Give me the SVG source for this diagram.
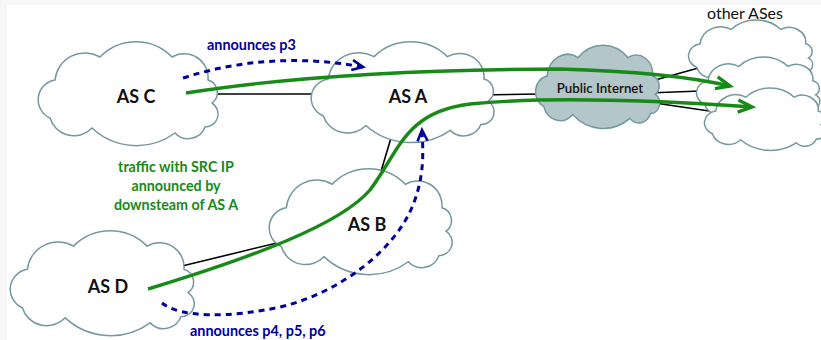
<svg xmlns="http://www.w3.org/2000/svg" width="821" height="340" viewBox="0 0 821 340">
<style>
.cloud{fill:#ffffff;stroke:#73989e;stroke-width:1.5}
.net{fill:#b3c6c9}
.link{stroke:#000;stroke-width:1.6;fill:none}
.green{stroke:#178a17;stroke-width:3.4;fill:none}
.blue{stroke:#00009a;stroke-width:3;fill:none;stroke-dasharray:6 5}
.lbl{font-family:Lato,"Open Sans",sans-serif;font-weight:bold;font-size:18px;fill:#111;text-anchor:middle}
.bt{font-family:Lato,"Open Sans",sans-serif;font-weight:bold;font-size:14.4px;fill:#00009a}
.gt{font-family:Lato,"Open Sans",sans-serif;font-weight:bold;font-size:14.3px;fill:#178a17;text-anchor:middle}
</style>
<defs>
<path id="cloud" vector-effect="non-scaling-stroke" d="M14,73 A20,20 0 0 1 19,35 A30,30 0 0 1 64,12 A50,50 0 0 1 136,12 A24,24 0 0 1 172,35 A13,13 0 0 1 176,58 A13,13 0 0 1 169,82 A18,18 0 0 1 139,88 A65,65 0 0 1 56,83 A25,25 0 0 1 14,73 Z"/>
<marker id="ga" markerUnits="userSpaceOnUse" markerWidth="20" markerHeight="20" refX="16" refY="8" orient="auto" viewBox="0 0 20 16">
<path d="M2,2 L16,8 L2,14" fill="none" stroke="#178a17" stroke-width="3.4"/>
</marker>
<marker id="ba" markerUnits="userSpaceOnUse" markerWidth="16" markerHeight="16" refX="13" refY="7" orient="auto" viewBox="0 0 16 14">
<path d="M2,2 L13,7 L2,12" fill="none" stroke="#00009a" stroke-width="2.6"/>
</marker>
</defs>
<rect x="0" y="0" width="821" height="340" fill="#f7f7f7"/>
<rect x="7" y="5" width="814" height="335" fill="#ffffff"/>

<g id="links">
<line class="link" x1="205" y1="94" x2="315" y2="94"/>
<line class="link" x1="480" y1="95" x2="540" y2="94"/>
<line class="link" x1="391" y1="138" x2="379" y2="178"/>
<line class="link" x1="285" y1="241" x2="178" y2="267"/>
<line class="link" x1="648" y1="82" x2="702" y2="67"/>
<line class="link" x1="648" y1="93" x2="700" y2="91"/>
<line class="link" x1="648" y1="102" x2="716" y2="112"/>
</g>

<g id="as-c"><use href="#cloud" class="cloud" transform="translate(36,45)"/><text class="lbl" x="136" y="103">AS C</text></g>
<g id="as-a"><use href="#cloud" class="cloud" transform="translate(309,45) scale(1.017,0.97)"/><text class="lbl" x="408" y="103">AS A</text></g>
<g id="public-internet"><use href="#cloud" class="cloud net" transform="translate(534,48) scale(0.69,0.8)"/><text x="600" y="93" font-family="Lato,'Open Sans',sans-serif" font-weight="600" font-size="13.3" fill="#111" text-anchor="middle">Public Internet</text></g>
<g id="as-b"><use href="#cloud" class="cloud" transform="translate(267,172) scale(1.017,1.02)"/><text class="lbl" x="367" y="231">AS B</text></g>
<g id="as-d"><use href="#cloud" class="cloud" transform="translate(8,234) scale(1.023,1.01)"/><text class="lbl" x="108" y="293">AS D</text></g>
<g id="other-ases">
<text x="745" y="19" font-family="Lato,'Open Sans',sans-serif" font-size="16" fill="#111" text-anchor="middle">other ASes</text>
<use href="#cloud" class="cloud" transform="translate(687,22) scale(0.69,0.62)"/>
<use href="#cloud" class="cloud" transform="translate(695,59) scale(0.685,0.62)"/>
<use href="#cloud" class="cloud" transform="translate(703,90) scale(0.67,0.6)"/>
</g>

<g id="flows">
<path class="green" marker-end="url(#ga)" d="M186,93 Q330,70 560,69 Q670,72 730,86"/>
<path class="green" marker-end="url(#ga)" d="M148,289 C250,258 340,225 370,190 C400,150 405,112 470,104 C540,97 650,100 752,107"/>
<path class="blue" marker-end="url(#ba)" d="M183,78 Q270,50 363,67"/>
<path class="blue" marker-end="url(#ba)" d="M162,303 C180,318 230,318 280,307 C340,293 395,250 413,205 C425,175 423,150 422,130"/>
</g>
<text class="bt" x="207" y="50">announces p3</text>
<text class="bt" x="190" y="336">announces p4, p5, p6</text>
<text class="gt" x="176" y="172">traffic with SRC IP</text>
<text class="gt" x="176" y="191">announced by</text>
<text class="gt" x="176" y="210">downsteam of AS A</text>
</svg>
